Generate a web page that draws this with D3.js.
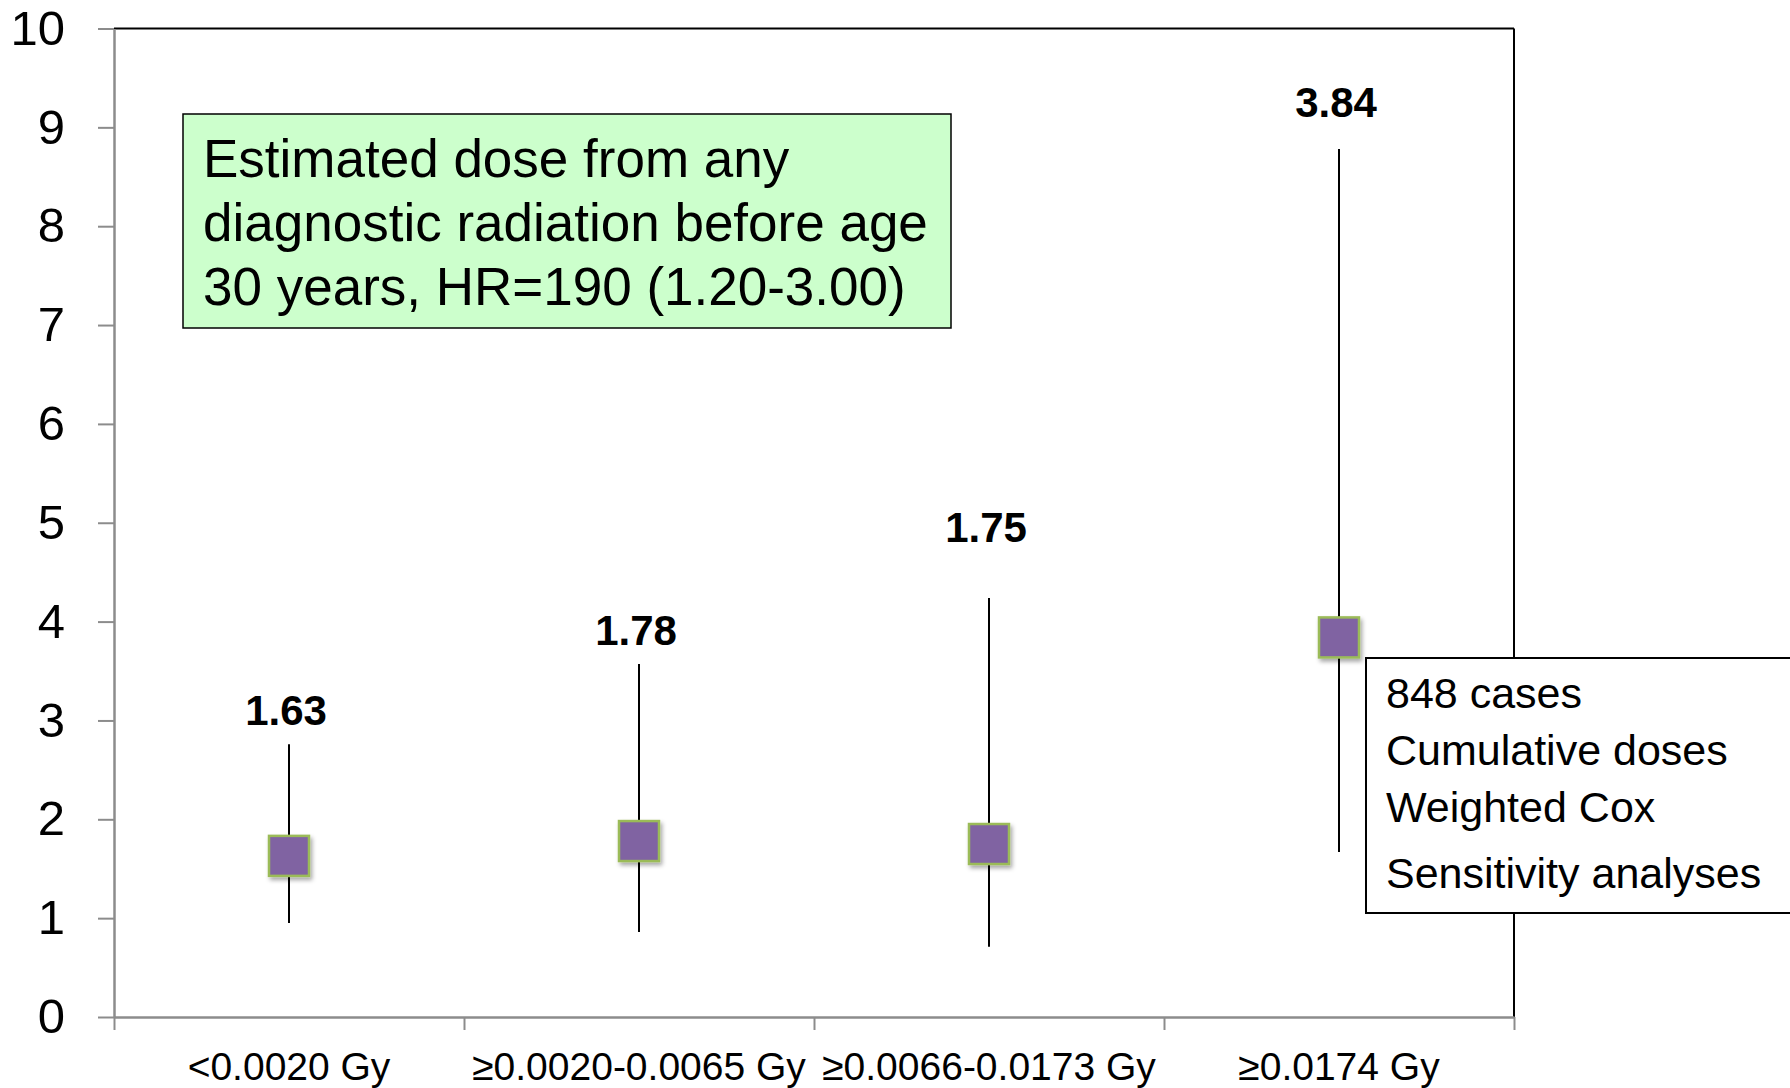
<!DOCTYPE html>
<html>
<head>
<meta charset="utf-8">
<script src="https://cdn.jsdelivr.net/npm/d3@7/dist/d3.min.js"></script>
<style>
  html, body { margin: 0; padding: 0; background: #fff; }
  svg { display: block; font-family: "Liberation Sans", Arial, sans-serif; }
</style>
</head>
<body>
<div id="chart"></div>
<script>
// hazard ratios by cumulative dose category
const categories = ["<0.0020 Gy", "\u22650.0020-0.0065 Gy", "\u22650.0066-0.0173 Gy", "\u22650.0174 Gy"];
const hr = [1.63, 1.78, 1.75, 3.84];
const ciLow = [0.95, 0.86, 0.71, 1.67];
const ciHigh = [2.76, 3.57, 4.24, 8.78];
const labelAt = [2.95, 3.76, 4.81, 9.10];
const yTicks = [0, 1, 2, 3, 4, 5, 6, 7, 8, 9, 10];
const noteLines = ["Estimated dose from any", "diagnostic radiation before age", "30 years, HR=190 (1.20-3.00)"];
const infoLines = ["848 cases", "Cumulative doses", "Weighted Cox", "Sensitivity analyses"];

const width = 1790;
const height = 1088;
const margin = {top: 28.5, right: 276, bottom: 71, left: 114};

const svg = d3.select("#chart")
    .append("svg")
    .attr("width", width)
    .attr("height", height);

// drop shadow for the markers
const defs = svg.append("defs");
defs.append("filter")
    .attr("id", "shadow")
    .attr("x", "-30%").attr("y", "-30%")
    .attr("width", "170%").attr("height", "170%")
    .append("feDropShadow")
    .attr("dx", 2).attr("dy", 3)
    .attr("stdDeviation", 2)
    .attr("flood-color", "#000")
    .attr("flood-opacity", 0.35);

const x = d3.scaleBand()
    .domain(categories)
    .range([margin.left, width - margin.right])
    .padding(0);

// category edges, for the bottom tick marks
const xEdge = d3.scaleLinear()
    .domain([0, categories.length])
    .range([margin.left, width - margin.right]);

const y = d3.scaleLinear()
    .domain([0, 10])
    .range([height - margin.bottom, margin.top]);

// frame: top and right borders in black
svg.append("line")
    .attr("x1", margin.left).attr("x2", width - margin.right)
    .attr("y1", y(10)).attr("y2", y(10))
    .attr("stroke", "#000").attr("stroke-width", 2);
svg.append("line")
    .attr("x1", width - margin.right).attr("x2", width - margin.right)
    .attr("y1", y(10)).attr("y2", y(0))
    .attr("stroke", "#000").attr("stroke-width", 2);

// y axis
const yAxis = svg.append("g")
    .attr("transform", `translate(${margin.left},0)`)
    .call(d3.axisLeft(y).tickValues(yTicks).tickSize(16).tickPadding(33).tickSizeOuter(0));
yAxis.select(".domain").attr("stroke", "#8c8c8c").attr("stroke-width", 2.5);
yAxis.selectAll(".tick line").attr("stroke", "#8c8c8c").attr("stroke-width", 2);
yAxis.selectAll("text")
    .attr("font-size", 49)
    .attr("fill", "#000")
    .attr("font-family", "'Liberation Sans', Arial, sans-serif");

// x axis: boundary ticks
const xTicks = svg.append("g")
    .attr("transform", `translate(0,${y(0)})`)
    .call(d3.axisBottom(xEdge).tickValues(d3.range(categories.length + 1)).tickFormat("").tickSize(13).tickSizeOuter(0));
xTicks.select(".domain").attr("stroke", "#8c8c8c").attr("stroke-width", 2.5);
xTicks.selectAll(".tick line").attr("stroke", "#8c8c8c").attr("stroke-width", 2);

// x axis: category labels
const xLabels = svg.append("g")
    .attr("transform", `translate(0,${y(0)})`)
    .call(d3.axisBottom(x).tickSize(0).tickPadding(35));
xLabels.select(".domain").remove();
xLabels.selectAll("text")
    .attr("font-size", 39)
    .attr("fill", "#000")
    .attr("font-family", "'Liberation Sans', Arial, sans-serif");

const rows = categories.map((c, i) => ({cat: c, hr: hr[i], lo: ciLow[i], hi: ciHigh[i], lab: labelAt[i]}));

// confidence interval lines
svg.selectAll(".ci")
    .data(rows)
    .enter()
    .append("line")
    .attr("class", "ci")
    .attr("x1", d => x(d.cat) + x.bandwidth() / 2)
    .attr("x2", d => x(d.cat) + x.bandwidth() / 2)
    .attr("y1", d => y(d.lo))
    .attr("y2", d => y(d.hi))
    .attr("stroke", "#000")
    .attr("stroke-width", 2);

// point estimates
const sq = 40;
svg.selectAll(".pt")
    .data(rows)
    .enter()
    .append("rect")
    .attr("class", "pt")
    .attr("x", d => x(d.cat) + x.bandwidth() / 2 - sq / 2)
    .attr("y", d => y(d.hr) - sq / 2)
    .attr("width", sq)
    .attr("height", sq)
    .attr("fill", "#8064a2")
    .attr("stroke", "#9bbb59")
    .attr("stroke-width", 2.5)
    .attr("filter", "url(#shadow)");

// value labels
svg.selectAll(".val")
    .data(rows)
    .enter()
    .append("text")
    .attr("class", "val")
    .attr("x", d => x(d.cat) + x.bandwidth() / 2 - 3)
    .attr("y", d => y(d.lab))
    .attr("text-anchor", "middle")
    .attr("font-size", 42)
    .attr("font-weight", "bold")
    .attr("fill", "#000")
    .text(d => d3.format(".2f")(d.hr));

// green note box
const note = svg.append("g");
note.append("rect")
    .attr("x", 183).attr("y", 114)
    .attr("width", 768).attr("height", 214)
    .attr("fill", "#ccffcc")
    .attr("stroke", "#000")
    .attr("stroke-width", 1.5);
note.selectAll("text")
    .data(noteLines)
    .enter()
    .append("text")
    .attr("x", 203)
    .attr("y", (d, i) => 177 + i * 64)
    .attr("font-size", 53)
    .attr("fill", "#000")
    .text(d => d);

// study info box
const info = svg.append("g");
info.append("rect")
    .attr("x", 1366).attr("y", 658)
    .attr("width", 500).attr("height", 255)
    .attr("fill", "#fff")
    .attr("stroke", "#000")
    .attr("stroke-width", 2);
info.selectAll("text")
    .data(infoLines)
    .enter()
    .append("text")
    .attr("x", 1386)
    .attr("y", (d, i) => [708, 765, 822, 888][i])
    .attr("font-size", 43)
    .attr("fill", "#000")
    .text(d => d);
</script>
</body>
</html>
